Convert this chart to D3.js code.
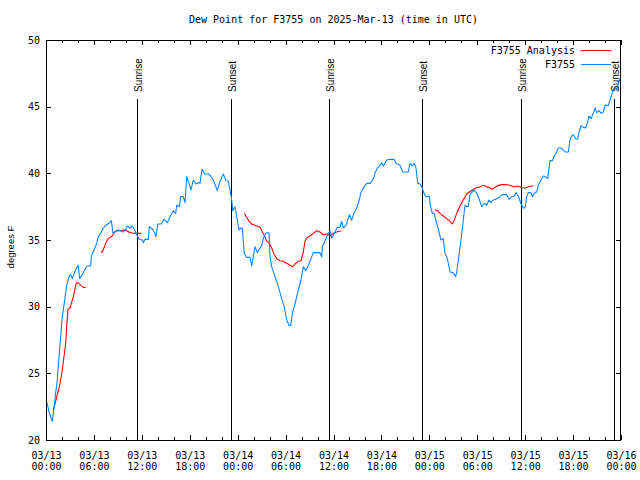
<!DOCTYPE html>
<html><head><meta charset="utf-8">
<script src="https://cdn.jsdelivr.net/npm/d3@7"></script>
<style>body{margin:0;background:#fff}svg{display:block}</style>
</head><body><svg id="c" width="640" height="480"></svg>
<script>
const title = "Dew Point for F3755 on 2025-Mar-13 (time in UTC)";
const yLabel = "degrees F";
const seriesNames = ["F3755 Analysis", "F3755"];
const seriesColors = ["#ff0000", "#0a85ff"];
const yTicks = [20, 25, 30, 35, 40, 45, 50];
const startTime = "2025-03-13T00:00:00Z";
const endTime = "2025-03-16T00:00:00Z";

// observed dew point (hours since start, °F)
const obsHours = [0.13,0.38,0.79,1.0,1.21,1.41,1.63,1.84,2.04,2.34,2.59,2.88,3.09,3.29,3.59,3.92,4.04,4.22,4.55,4.97,5.17,5.60,5.67,6.01,6.35,6.55,6.85,7.18,7.48,7.89,8.18,8.39,8.60,8.93,9.35,9.64,9.98,10.18,10.52,10.81,11.11,11.36,11.65,12.06,12.18,12.40,12.81,12.94,13.44,13.77,13.99,14.40,14.78,15.19,15.53,15.94,16.24,16.37,16.69,16.87,17.19,17.41,17.62,17.91,18.16,18.44,18.78,19.07,19.28,19.53,19.91,20.32,20.62,20.95,21.45,21.79,22.20,22.54,22.83,23.13,23.25,23.38,23.67,23.95,24.17,24.42,24.58,24.83,25.13,25.54,25.76,25.96,26.17,26.46,26.80,27.01,27.21,27.51,27.92,28.05,28.26,28.68,29.09,29.51,29.84,30.14,30.43,30.64,30.89,31.09,31.30,31.59,31.93,32.22,32.52,32.85,33.18,33.47,34.31,34.52,34.60,34.94,35.35,35.56,35.78,36.10,36.48,36.81,37.03,37.23,37.57,37.98,38.28,38.57,38.91,39.23,39.41,39.73,40.16,40.57,40.91,41.20,41.49,41.82,42.04,42.24,42.66,43.08,43.58,43.83,44.33,44.67,45.37,45.58,45.87,46.12,46.33,46.54,46.83,47.04,47.33,47.58,48.00,48.08,48.37,48.62,48.80,49.05,49.21,49.46,49.75,49.96,50.18,50.38,50.59,51.00,51.30,51.43,51.63,51.97,52.25,52.47,52.68,52.88,53.09,53.38,53.63,53.93,54.22,54.56,54.76,54.97,55.18,55.47,55.72,56.01,56.44,56.85,57.14,57.69,57.98,58.31,58.64,58.85,59.14,59.48,59.77,59.98,60.19,60.39,60.73,60.89,61.14,61.44,61.65,61.98,62.27,62.49,62.82,62.99,63.11,63.40,63.65,63.95,64.15,64.49,64.78,64.99,65.40,65.61,65.83,66.03,66.33,66.58,66.74,66.99,67.28,67.58,67.83,67.99,68.25,68.53,68.75,68.96,69.25,69.50,69.79,70.00,70.42,70.63,70.84,71.04,71.25,71.47,71.67,71.88];
const obsDew = [22.8,22.1,21.4,22.4,23.5,24.5,26.2,27.75,29.25,30.5,31.6,32.25,32.4,32.1,32.6,33.0,33.1,32.1,32.4,32.9,33.05,33.05,33.75,34.25,34.75,35.25,35.5,35.9,36.1,36.25,36.45,35.5,35.6,35.75,35.7,35.6,35.8,36.05,35.9,36.05,35.75,35.4,35.05,35.0,34.8,35.05,35.05,36.0,35.75,35.25,36.2,36.2,36.55,36.3,36.75,37.2,37.0,37.6,37.5,38.25,38.25,37.8,39.75,39.25,38.75,39.5,39.2,39.3,39.25,40.3,39.95,39.95,39.8,39.5,38.7,39.4,39.95,39.45,39.4,38.5,38.0,37.2,37.5,36.5,35.75,35.9,35.9,34.0,33.7,33.7,33.05,33.75,34.5,34.05,34.4,34.6,35.1,35.5,35.55,33.75,33.0,32.25,31.5,30.6,30.0,29.0,28.6,28.6,29.6,30.0,30.5,31.25,32.0,33.0,32.7,33.1,33.6,34.05,34.05,33.75,34.5,34.95,35.5,35.65,35.15,35.5,35.95,35.95,36.4,35.9,36.1,36.9,36.5,37.05,37.4,38.0,38.5,38.9,39.25,39.25,39.5,40.0,40.4,40.6,40.8,40.55,41.0,41.05,41.05,40.75,40.6,40.1,40.1,40.75,40.55,40.75,40.4,39.25,39.2,39.0,38.5,38.25,38.3,37.75,37.0,37.0,36.5,36.0,35.6,35.0,35.1,34.0,33.75,33.25,32.6,32.55,32.25,32.6,33.5,35.0,36.5,37.6,37.5,37.5,38.4,38.6,38.75,38.5,38.1,37.5,37.7,37.75,37.6,38.0,37.8,38.0,38.1,38.25,38.4,38.4,38.05,38.25,38.3,38.55,38.3,37.7,37.4,37.4,38.25,38.55,38.55,38.25,38.5,38.6,39.1,39.5,39.8,39.75,39.6,40.4,40.95,40.95,41.3,41.6,41.9,41.9,41.75,41.6,41.6,42.5,42.8,42.9,42.6,42.55,43.1,43.55,43.45,43.4,43.9,44.3,44.1,44.5,44.9,44.55,44.7,44.5,44.6,45.1,45.1,45.5,45.9,46.3,46.5,46.25,46.75,47.1];

// analysis dew point (null = gap)
const anaHours = [0.91,1.21,1.41,1.63,1.84,2.04,2.25,2.47,2.59,2.75,3.01,3.17,3.42,3.59,3.79,4.01,4.35,4.67,4.97,null,6.85,7.05,7.48,7.76,8.01,8.30,8.60,8.93,9.35,9.77,10.11,10.39,10.68,11.02,11.43,11.93,null,24.83,25.13,25.42,25.76,26.17,26.58,26.80,27.09,27.42,27.64,27.92,28.26,28.59,28.89,29.30,29.71,30.14,30.55,30.89,31.18,31.59,31.93,32.22,32.43,32.72,33.06,33.47,33.90,34.31,34.72,35.15,35.56,35.98,36.40,36.90,null,48.71,49.05,49.34,49.75,50.18,50.59,50.88,51.13,51.43,51.84,52.25,52.68,53.01,53.38,53.81,54.35,54.76,55.18,55.60,55.89,56.22,56.64,57.14,57.69,58.10,58.51,58.94,59.35,59.64,59.98,60.39,60.73,61.02];
const anaDew = [22.25,22.9,23.4,23.9,24.5,25.25,26.25,27.25,28.5,29.8,29.9,30.25,30.75,31.25,31.75,31.8,31.6,31.45,31.45,null,34.1,34.1,34.75,35.1,35.2,35.3,35.6,35.7,35.7,35.75,35.7,35.6,35.55,35.5,35.5,35.5,null,37.0,36.7,36.4,36.2,36.1,36.0,35.95,35.6,35.25,34.9,34.8,34.4,33.9,33.6,33.45,33.4,33.25,33.1,33.0,33.2,33.4,33.45,34.1,34.9,35.2,35.3,35.5,35.7,35.6,35.4,35.45,35.3,35.5,35.6,35.7,null,37.25,37.2,37.0,36.8,36.6,36.4,36.2,36.5,37.0,37.55,38.0,38.45,38.6,38.75,38.9,39.0,39.1,39.0,38.9,38.8,38.95,39.1,39.15,39.15,39.1,39.0,39.05,39.0,38.9,38.9,39.0,39.05,39.05];

const sunTimes = ["2025-03-13T11:26:00Z","2025-03-13T23:12:00Z","2025-03-14T11:28:00Z","2025-03-14T23:07:00Z","2025-03-15T11:26:00Z","2025-03-15T23:10:00Z"];
const sunLabels = ["Sunrise","Sunset","Sunrise","Sunset","Sunrise","Sunset"];

const MONO = "'DejaVu Sans Mono', 'Liberation Mono', monospace";
const SANS = "'Liberation Sans', Arial, sans-serif";
const t0 = new Date(startTime);
const toDate = h => new Date(t0.getTime() + h * 3600e3);

const svg = d3.select("#c");
svg.append("rect").attr("width",640).attr("height",480).attr("fill","#fff");

const L = 46, R = 621, T = 40, B = 440;
const x = d3.scaleUtc().domain([new Date(startTime), new Date(endTime)]).range([L, R]);
const y = d3.scaleLinear().domain([20, 50]).range([B, T]);

// title
svg.append("text").attr("x", (L + R) / 2).attr("y", 23).attr("text-anchor","middle")
  .attr("font-family", MONO).attr("font-size", 10).text(title);

// y label
svg.append("text").attr("transform","translate(14,247) rotate(-90)").attr("text-anchor","middle")
  .attr("font-family", SANS).attr("font-size", 9.5).text(yLabel);

function styleAxis(g){
  g.select(".domain").remove();
  g.selectAll("line").attr("stroke","#000").attr("shape-rendering","crispEdges");
  g.attr("font-family", MONO).attr("font-size", 10);
}

// minor x ticks bottom/top
svg.append("g").attr("transform",`translate(0,${B})`)
  .call(d3.axisBottom(x).ticks(d3.utcHour.every(2)).tickSize(-3).tickFormat(() => "")).call(styleAxis);
svg.append("g").attr("transform",`translate(0,${T})`)
  .call(d3.axisTop(x).ticks(d3.utcHour.every(2)).tickSize(-3).tickFormat(() => "")).call(styleAxis);
// major x ticks
const fD = d3.utcFormat("%m/%d"), fH = d3.utcFormat("%H:%M");
const gxb = svg.append("g").attr("transform",`translate(0,${B})`)
  .call(d3.axisBottom(x).ticks(d3.utcHour.every(6)).tickSize(-5).tickFormat(() => "")).call(styleAxis);
gxb.selectAll(".tick text").each(function(d){
  const t = d3.select(this).attr("y", null).attr("dy", null).attr("fill","#000");
  t.append("tspan").attr("x",0).attr("y",18.5).text(fD(d));
  t.append("tspan").attr("x",0).attr("y",30).text(fH(d));
});
svg.append("g").attr("transform",`translate(0,${T})`)
  .call(d3.axisTop(x).ticks(d3.utcHour.every(6)).tickSize(-5).tickFormat(() => "")).call(styleAxis);

// y axes
const gyl = svg.append("g").attr("transform",`translate(${L},0)`)
  .call(d3.axisLeft(y).tickValues(yTicks).tickSize(-5).tickPadding(6).tickFormat(d3.format("d"))).call(styleAxis);
gyl.selectAll(".tick text").attr("fill","#000");
svg.append("g").attr("transform",`translate(${R},0)`)
  .call(d3.axisRight(y).tickValues(yTicks).tickSize(-5).tickFormat(() => "")).call(styleAxis);

// sunrise / sunset
sunTimes.forEach((s, i) => {
  const sx = Math.round(x(new Date(s)));
  svg.append("line").attr("x1", sx + 0.5).attr("x2", sx + 0.5).attr("y1", 99).attr("y2", B)
    .attr("stroke","#000").attr("stroke-width",1).attr("shape-rendering","crispEdges");
  svg.append("text").attr("transform",`translate(${sx + 4.5},92) rotate(-90)`)
    .attr("font-family", SANS).attr("font-size", 10).attr("text-anchor","start").text(sunLabels[i]);
});

// lines
const obs = obsHours.map((h, i) => ({t: toDate(h), v: obsDew[i]}));
const ana = anaHours.map((h, i) => ({t: h == null ? null : toDate(h), v: anaDew[i]}));
const line = d3.line().defined(d => d.v != null && d.t != null).x(d => x(d.t)).y(d => y(d.v));

svg.append("path").datum(ana).attr("d", line).attr("fill","none")
  .attr("stroke", seriesColors[0]).attr("stroke-width",1.1).attr("stroke-linejoin","round");
svg.append("path").datum(obs).attr("d", line).attr("fill","none")
  .attr("stroke", seriesColors[1]).attr("stroke-width",1.1).attr("stroke-linejoin","round");

// frame
svg.append("rect").attr("x", L + 0.5).attr("y", T + 0.5).attr("width", R - L - 1).attr("height", B - T)
  .attr("fill","none").attr("stroke","#000").attr("shape-rendering","crispEdges");

// legend
seriesNames.forEach((n, i) => {
  const ly = 50 + i * 13.5;
  svg.append("text").attr("x", 575).attr("y", ly + 4).attr("text-anchor","end")
    .attr("font-family", MONO).attr("font-size", 10).text(n);
  svg.append("line").attr("x1", 581).attr("x2", 611).attr("y1", Math.round(ly) + 0.5).attr("y2", Math.round(ly) + 0.5)
    .attr("stroke", seriesColors[i]).attr("stroke-width", 1).attr("shape-rendering","crispEdges");
});
</script>
</body></html>
